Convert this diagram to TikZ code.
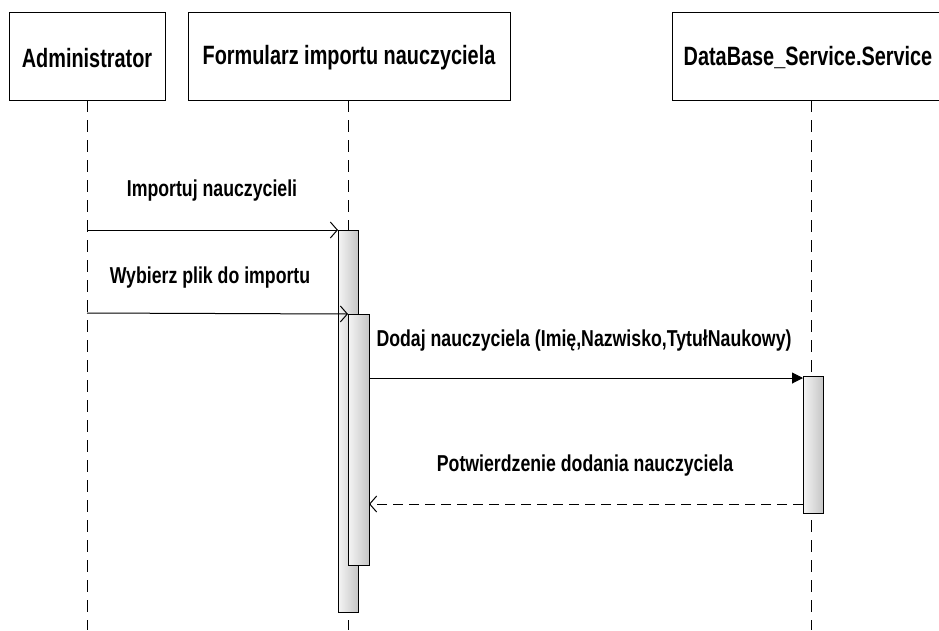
\documentclass[tikz,border=0pt]{standalone}
\usepackage{fontspec}
\setmainfont{Liberation Sans}[FakeStretch=0.75]
\newfontfamily\msgfont{Liberation Sans}[FakeStretch=0.77]
\usetikzlibrary{arrows.meta}
\begin{document}
\begin{tikzpicture}[x=1pt,y=-1pt,
  hdr/.style={font=\fontsize{26.5}{30}\selectfont\bfseries},
  msg/.style={font=\msgfont\fontsize{23}{27}\selectfont\bfseries},
  obj/.style={draw=black,line width=1pt},
  lifeline/.style={line width=1pt,dash pattern=on 12pt off 8pt},
  act/.style={draw=black,line width=1pt,left color=gray!8,right color=gray!45},
  call/.style={line width=1pt,-{Straight Barb[length=7pt,width=16pt]}},
  sync/.style={line width=1pt,-{Triangle[length=11pt,width=11pt]}},
  ret/.style={line width=1pt,dash pattern=on 10pt off 6pt,-{Straight Barb[length=7pt,width=16pt]}}]
\useasboundingbox (0,0) rectangle (939,630);
% object boxes
\draw[obj] (9,12) rectangle (165,100);
\draw[obj] (188,12) rectangle (510,100);
\draw[obj] (945,12) -- (672,12) -- (672,100) -- (945,100);
\node[hdr] (hA) at (87,58) {Administrator};
\node[hdr] (hF) at (349,58) {Formularz importu nauczyciela};
\node[hdr] (hD) at (808,58) {DataBase\_Service.Service};
% lifelines
\coordinate (la0) at (87,100);
\coordinate (la1) at (87,630);
\coordinate (lf0) at (348,100);
\coordinate (lf1) at (348,630);
\coordinate (ld0) at (811,100);
\coordinate (ld1) at (811,630);
\draw[lifeline] (la0) -- (la1);
\draw[lifeline] (lf0) -- (lf1);
\draw[lifeline] (ld0) -- (ld1);
% activation bars
\node[act,minimum width=20pt,minimum height=382pt,inner sep=0pt,outer sep=0pt] (aF1) at (348,421) {};
\node[act,minimum width=21pt,minimum height=251pt,inner sep=0pt,outer sep=0pt] (aF2) at (358.5,439.5) {};
\node[act,minimum width=20pt,minimum height=137pt,inner sep=0pt,outer sep=0pt] (aD) at (813,444.5) {};
% messages
\coordinate (m1s) at (87,230);
\coordinate (m2s) at (87,313);
\draw[call] (m1s) -- (aF1.north west);
\draw[call] (m2s) -- (aF2.north west);
\draw[sync] (aF2.east |- 0,378) -- (aD.west |- 0,378);
\draw[ret] (aD.west |- 0,504) -- (aF2.east |- 0,504);
\node[msg] (t1) at (212,191) {Importuj nauczycieli};
\node[msg] (t2) at (210,278) {Wybierz plik do importu};
\node[msg] (t3) at (584,341) {Dodaj nauczyciela (Imię,Nazwisko,TytułNaukowy)};
\node[msg] (t4) at (585,466) {Potwierdzenie dodania nauczyciela};
\end{tikzpicture}
\end{document}
